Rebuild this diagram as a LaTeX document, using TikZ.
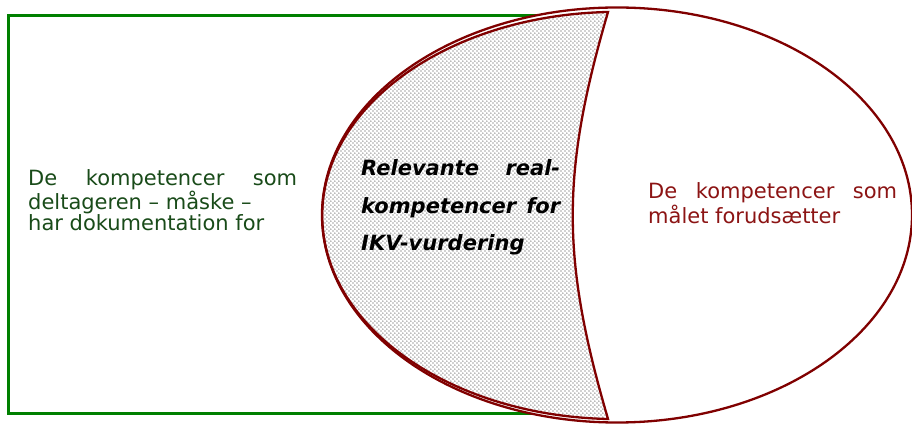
\documentclass[tikz,border=0pt]{standalone}
\usepackage{fontspec}
\setmainfont{DejaVu Sans}
\usetikzlibrary{patterns}

% staggered dot raster for the overlap region
\pgfdeclarepatternformonly{overlapdots}{\pgfpointorigin}{\pgfqpoint{4.4pt}{4.4pt}}{\pgfqpoint{4.4pt}{4.4pt}}{%
  \pgfpathcircle{\pgfqpoint{1.1pt}{1.1pt}}{0.72pt}%
  \pgfpathcircle{\pgfqpoint{3.3pt}{3.3pt}}{0.72pt}%
  \pgfusepath{fill}}

\definecolor{boxgreen}{RGB}{0,128,0}
\definecolor{textgreen}{RGB}{25,75,25}
\definecolor{goalred}{RGB}{128,0,0}
\definecolor{textred}{RGB}{140,20,20}

\tikzset{
  docbox/.style={draw=boxgreen, line width=2.2pt},
  goalshape/.style={draw=goalred, line width=2.3pt, fill=white},
  overlap/.style={draw=goalred, line width=2.3pt, line join=miter,
    pattern=overlapdots, pattern color=black!75},
  blocktext/.style={inner sep=0pt, anchor=base west}
}

\begin{document}
\begin{tikzpicture}[x=1pt,y=1pt]
  \useasboundingbox (0,0) rectangle (912,423);

  % documented competences
  \draw[docbox] (8.5,9.5) rectangle (560,407.5);

  % competences required by the goal
  \draw[goalshape] (617,208) ellipse [x radius=295, y radius=207.5];

  % relevant prior learning: overlap of both
  \coordinate (ovtop) at (608,411);
  \coordinate (ovbot) at (608,4);
  \draw[overlap] (ovtop) arc [start angle=91.75, end angle=268.25,
      x radius=294.8, y radius=203.6]
    .. controls (561,165) and (561,250) .. (ovtop) -- cycle;

  \node[blocktext, text=textgreen] (doc) at (28,237.3) {%
    \parbox[t]{269pt}{\fontsize{21}{21}\selectfont\raggedright
      \makebox[\linewidth][s]{De kompetencer som}\\
      deltageren – måske –\\
      har dokumentation for}};

  \node[blocktext, text=black] (rel) at (361,247) {%
    \parbox[t]{199pt}{\fontsize{21}{37.3}\selectfont\bfseries\itshape\raggedright
      \makebox[\linewidth][s]{Relevante real-}\\
      \makebox[\linewidth][s]{kompetencer for}\\
      IKV-vurdering}};

  \node[blocktext, text=textred] (goal) at (648,224) {%
    \parbox[t]{249pt}{\fontsize{21}{25}\selectfont\raggedright
      \makebox[\linewidth][s]{De kompetencer som}\\
      målet forudsætter}};
\end{tikzpicture}
\end{document}
